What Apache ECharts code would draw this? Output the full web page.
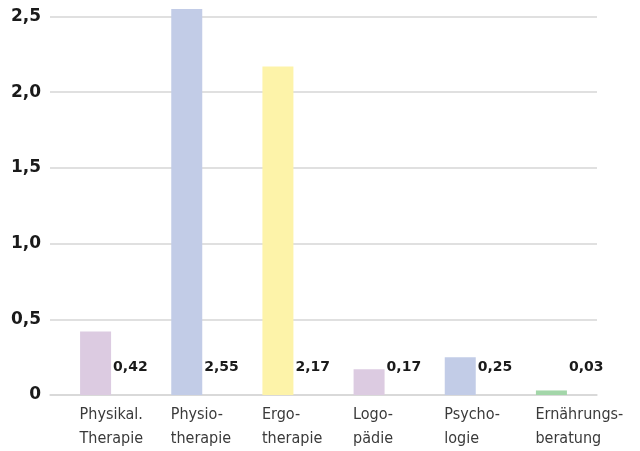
<!DOCTYPE html>
<html><head><meta charset="utf-8">
<script src="https://cdn.jsdelivr.net/npm/echarts@6/dist/echarts.min.js"></script>
<style>html,body{margin:0;padding:0;background:#fff}#c{width:640px;height:451px}</style>
</head><body><div id="c"></div>
<script>
var categories = ['Physikal.\nTherapie', 'Physio-\ntherapie', 'Ergo-\ntherapie', 'Logo-\npädie', 'Psycho-\nlogie', 'Ernährungs-\nberatung'];
var values = [0.42, 2.55, 2.17, 0.17, 0.25, 0.03];
var colors = ['#dccbe1', '#c2cce7', '#fdf3a9', '#dccbe1', '#c2cce7', '#a3d6a9'];
var yTicks = [0, 0.5, 1.0, 1.5, 2.0, 2.5];

var chart = echarts.init(document.getElementById('c'), null, {renderer: 'canvas'});
function fmt(v, d) { return v === 0 ? '0' : v.toFixed(d).replace('.', ','); }
chart.setOption({
  animation: false,
  grid: {left: 50, right: 43, top: 16.5, bottom: 56, containLabel: false},
  xAxis: {
    type: 'category', data: categories,
    axisLine: {show: true, lineStyle: {color: '#d6d6d6', width: 1.5}},
    axisTick: {show: false},
    axisLabel: {
      interval: 0, align: 'left', margin: 8, padding: [0, 0, 0, -16],
      fontFamily: 'DejaVu Sans Condensed', fontSize: 16, lineHeight: 24, color: '#3a3a3a'
    }
  },
  yAxis: {
    type: 'value', min: yTicks[0], max: yTicks[yTicks.length - 1], interval: 0.5,
    axisLine: {show: false}, axisTick: {show: false},
    splitLine: {lineStyle: {color: '#d6d6d6', width: 1.5}},
    axisLabel: {
      margin: 9, fontFamily: 'DejaVu Sans', fontWeight: 'bold', fontSize: 17, color: '#1a1a1a',
      formatter: function (v) { return fmt(v, 1); }
    }
  },
  series: [{
    type: 'bar', barWidth: 31, clip: false,
    data: values.map(function (v, i) { return {value: v, itemStyle: {color: colors[i]}}; }),
    label: {
      show: true, position: ['100%', '100%'], offset: [2, -28], align: 'left', verticalAlign: 'middle',
      fontFamily: 'DejaVu Sans', fontWeight: 'bold', fontSize: 14, color: '#1a1a1a',
      formatter: function (p) { return fmt(p.value, 2); }
    }
  }]
});
</script></body></html>
